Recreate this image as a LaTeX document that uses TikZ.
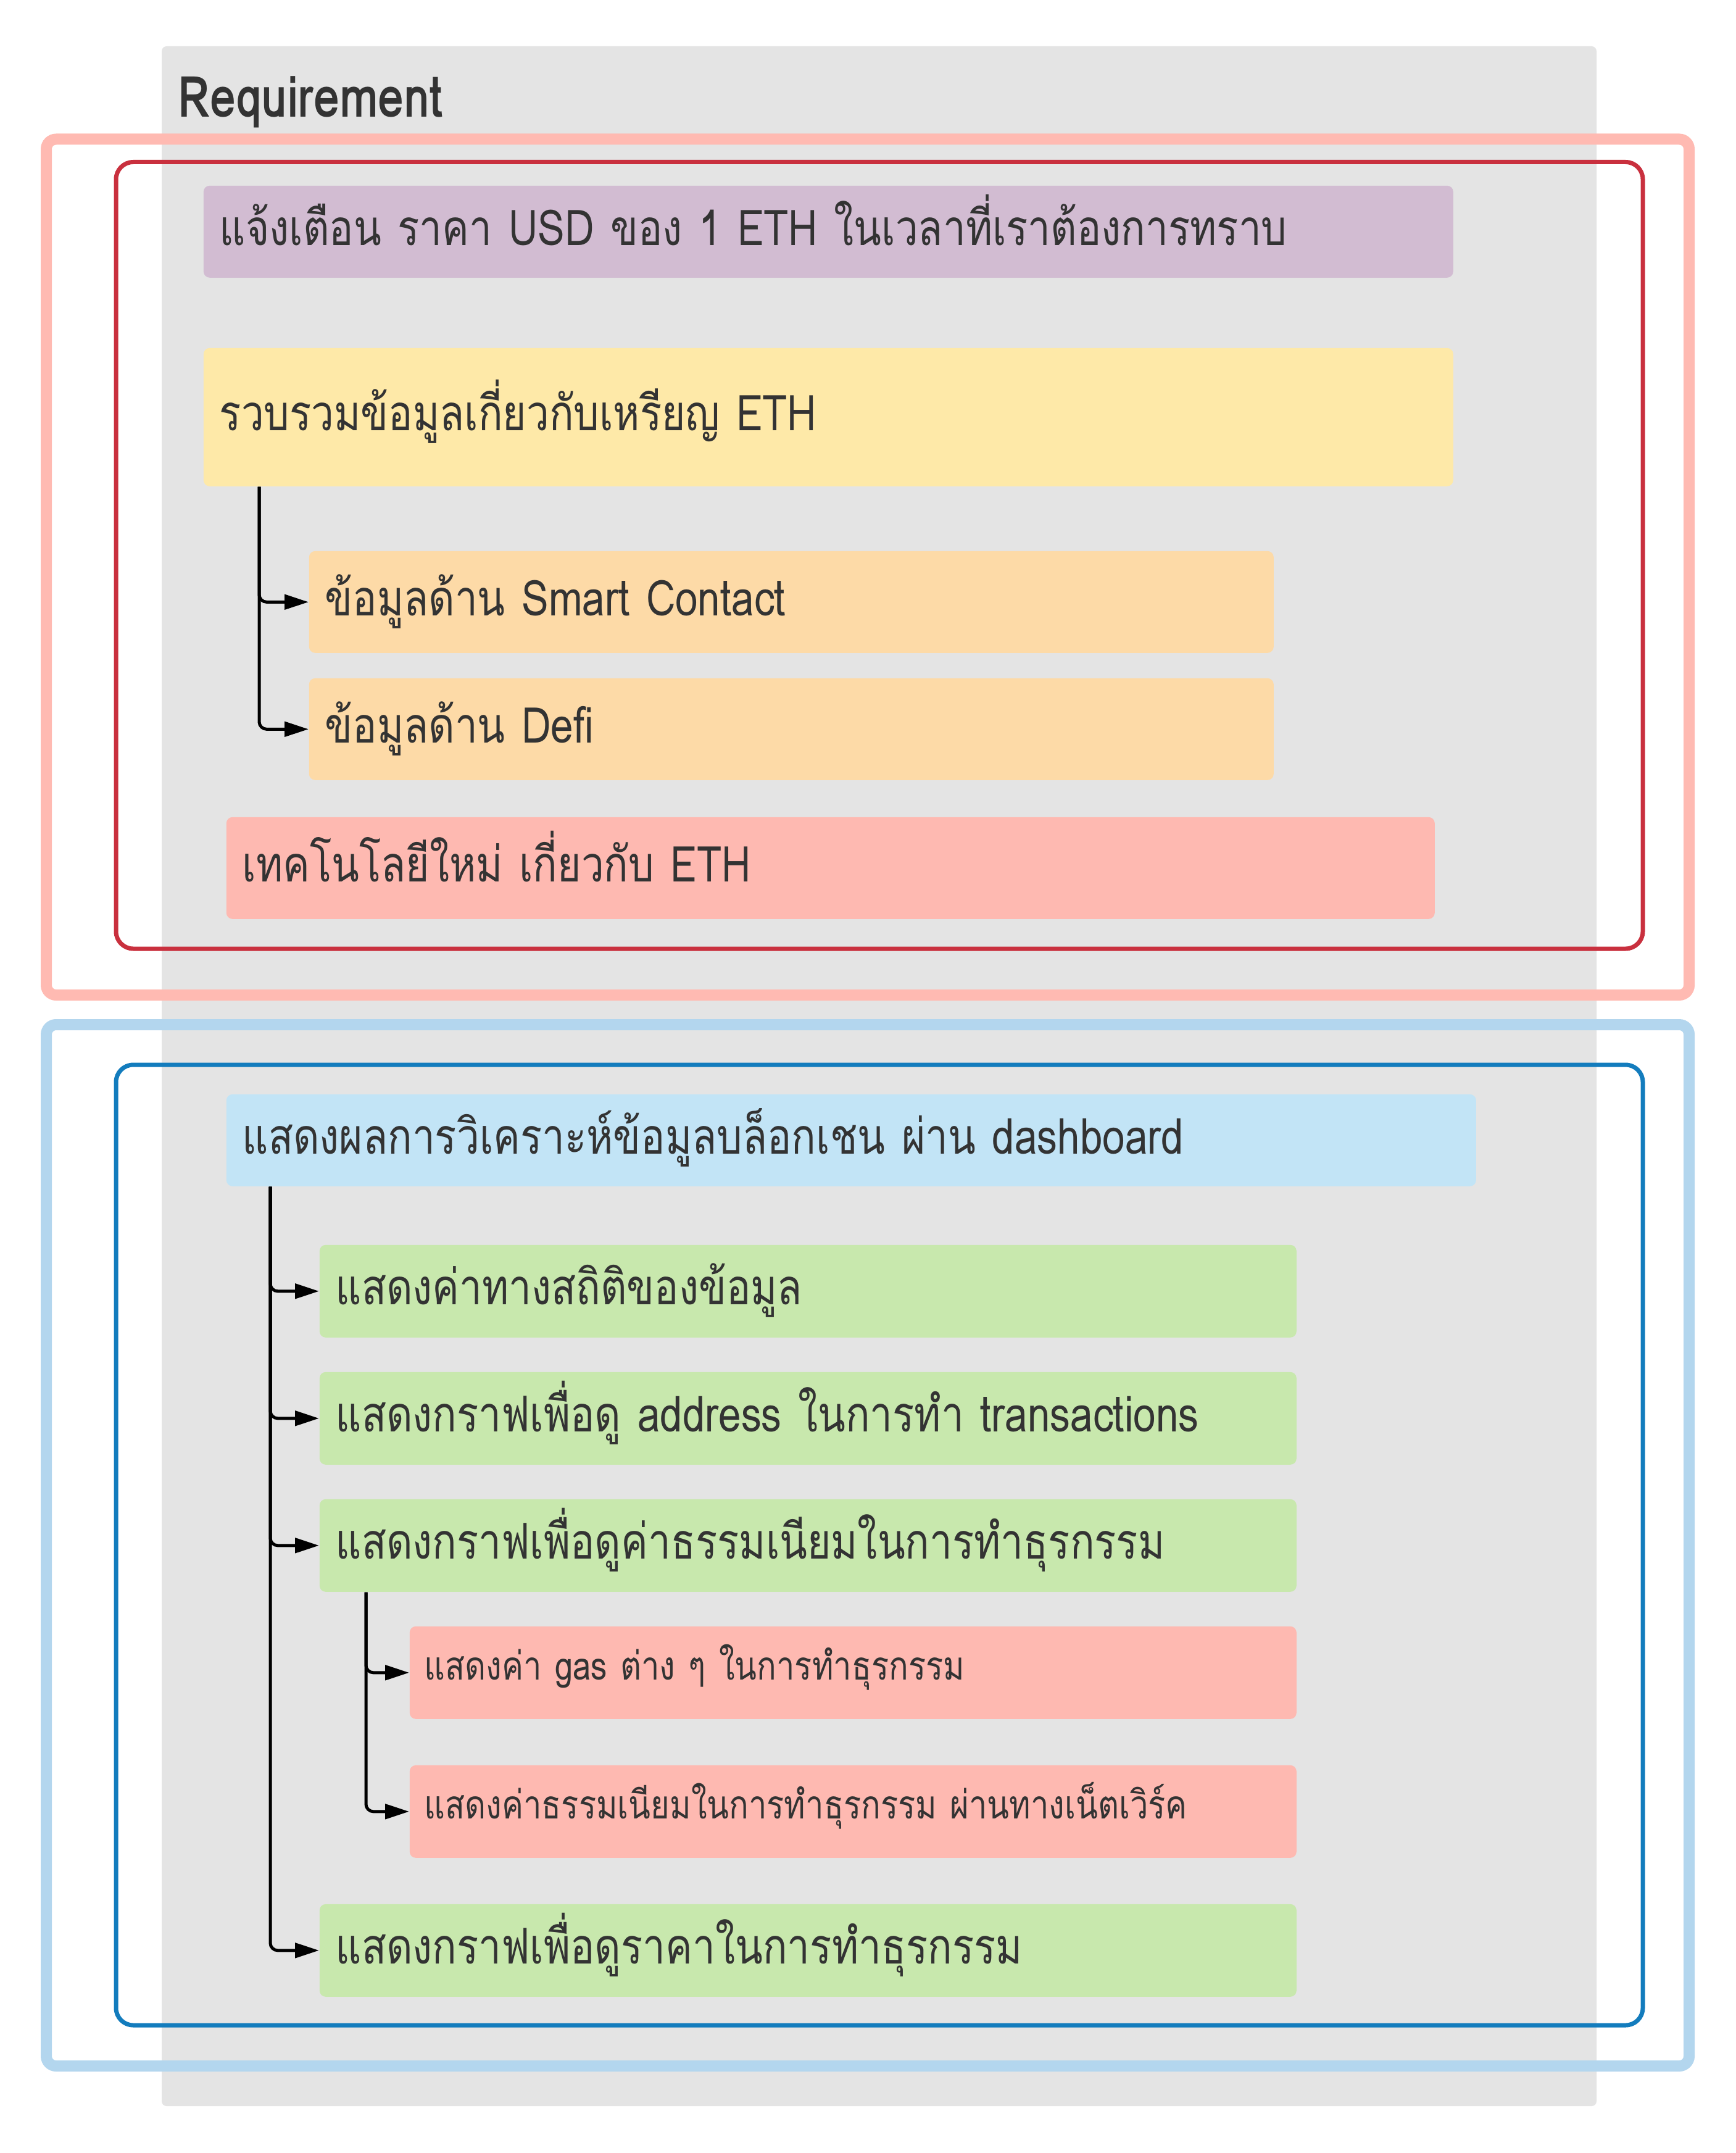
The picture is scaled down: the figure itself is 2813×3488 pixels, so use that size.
\documentclass[tikz,border=0pt]{standalone}
\usepackage{fontspec}
\newfontfamily\thaifont[Script=Thai, FakeStretch=0.82]{Loma}
\usetikzlibrary{arrows.meta}
\definecolor{panel}{HTML}{E4E4E4}
\definecolor{ink}{HTML}{333333}
\definecolor{salmonline}{HTML}{FFBAB2}
\definecolor{redline}{HTML}{C9303E}
\definecolor{skyline}{HTML}{B3D6EE}
\definecolor{blueline}{HTML}{137CBD}
\definecolor{lilac}{HTML}{D2BCD2}
\definecolor{butter}{HTML}{FEE9A8}
\definecolor{peach}{HTML}{FDDAA7}
\definecolor{rose}{HTML}{FEB9B1}
\definecolor{ice}{HTML}{C2E4F6}
\definecolor{mint}{HTML}{C8E8AD}
\tikzset{
  box/.style={anchor=north west, rounded corners=2.5pt, inner xsep=6.5pt, inner ysep=0pt,
    align=left, text=ink, text height=15pt, text depth=4pt,
    font=\thaifont\fontsize{20}{24}\selectfont},
  wide/.style={box, text width=493.25pt, minimum height=37.25pt},
  mid/.style={box, fill=peach, text width=377.75pt, minimum height=41.25pt},
  leaf/.style={box, fill=mint, text width=382.75pt, minimum height=37.5pt},
  subleaf/.style={box, fill=rose, inner xsep=6pt, text width=347.25pt, minimum height=37.5pt,
    text height=10pt, text depth=4pt, font=\thaifont\fontsize{16}{20}\selectfont},
  link/.style={->, draw=black, line width=1.25pt, rounded corners=3pt},
  >={Triangle[length=9.75pt,width=6pt]}
}
\begin{document}
\begin{tikzpicture}[x=0.25pt,y=-0.25pt]
  \fill[white] (0,0) rectangle (2813,3488);
  \useasboundingbox (0,0) rectangle (2813,3488);
  % panel
  \fill[panel, rounded corners=2pt] (262,75) rectangle (2587,3412);
  \node[anchor=base west, inner sep=0pt, text=ink, font=\thaifont\bfseries\fontsize{23}{26}\selectfont] (req) at (288,190) {Requirement};
  % requirement boxes
  \node[wide, fill=lilac] (msg) at (329,300) {แจ้งเตือน ราคา USD ของ 1 ETH ในเวลาที่เราต้องการทราบ};
  \node[wide, fill=butter, minimum height=56pt] (coll) at (329,563) {รวบรวมข้อมูลเกี่ยวกับเหรียญ ETH};
  \node[mid] (sc) at (500,892) {ข้อมูลด้าน Smart Contact};
  \node[mid] (defi) at (500,1098) {ข้อมูลด้าน Defi};
  \node[box, fill=rose, text width=476.5pt, minimum height=41.25pt] (tech) at (366,1323) {เทคโนโลยีใหม่ เกี่ยวกับ ETH};
  \foreach \t in {sc,defi}
    \draw[link] ([xshift=22.75pt]coll.south west) |- (\t.west);
  % dashboard boxes
  \node[wide, fill=ice] (dash) at (366,1772) {แสดงผลการวิเคราะห์ข้อมูลบล็อกเชน ผ่าน dashboard};
  \node[leaf] (stat) at (517,2016) {แสดงค่าทางสถิติของข้อมูล};
  \node[leaf] (addr) at (517,2222) {แสดงกราฟเพื่อดู address ในการทำ transactions};
  \node[leaf] (fee) at (517,2428) {แสดงกราฟเพื่อดูค่าธรรมเนียมในการทำธุรกรรม};
  \node[subleaf] (gas) at (663,2634) {แสดงค่า gas ต่าง ๆ ในการทำธุรกรรม};
  \node[subleaf] (net) at (663,2859) {แสดงค่าธรรมเนียมในการทำธุรกรรม ผ่านทางเน็ตเวิร์ค};
  \node[leaf] (price) at (517,3084) {แสดงกราฟเพื่อดูราคาในการทำธุรกรรม};
  \foreach \t in {stat,addr,fee,price}
    \draw[link] ([xshift=18pt]dash.south west) |- (\t.west);
  \foreach \t in {gas,net}
    \draw[link] ([xshift=19pt]fee.south west) |- (\t.west);
  % frames
  \draw[salmonline, line width=4.5pt, rounded corners=4pt] (75,225.5) rectangle (2737,1612);
  \draw[redline, line width=1.75pt, rounded corners=7pt] (188,262.5) rectangle (2662,1537);
  \draw[skyline, line width=4.5pt, rounded corners=4pt] (75,1660) rectangle (2737,3347);
  \draw[blueline, line width=1.75pt, rounded corners=7pt] (188,1725) rectangle (2662,3281);
\end{tikzpicture}
\end{document}
